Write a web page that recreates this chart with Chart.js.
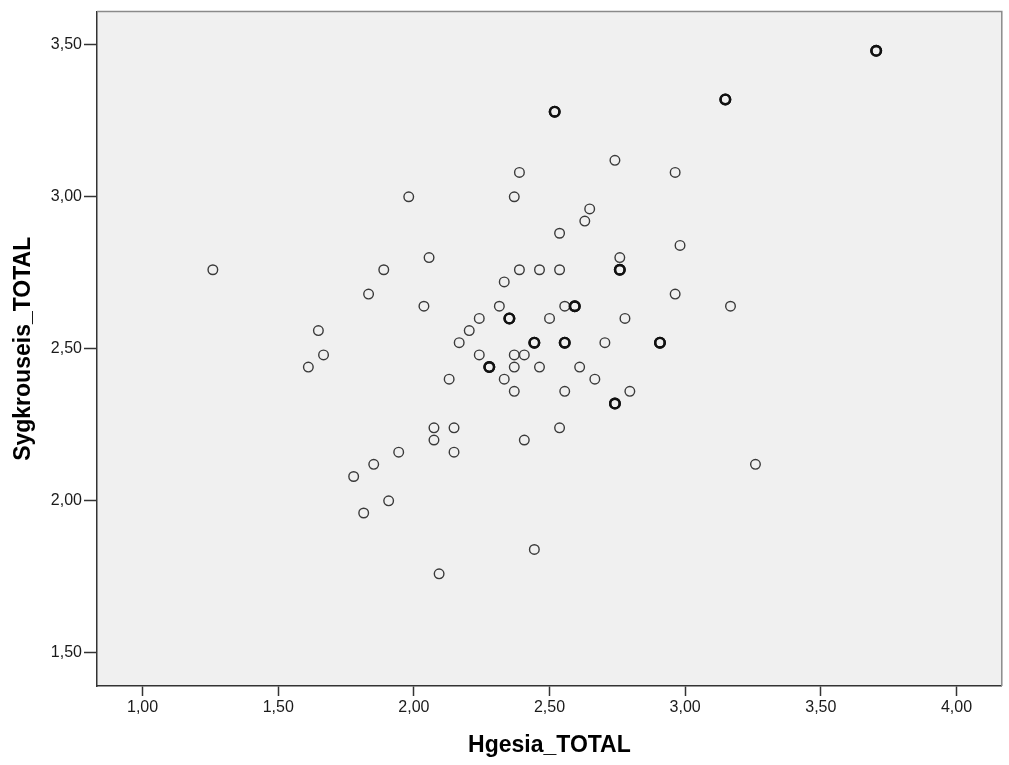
<!DOCTYPE html>
<html>
<head>
<meta charset="utf-8">
<script src="https://cdn.jsdelivr.net/npm/chart.js@4"></script>
<style>
  html, body { margin: 0; padding: 0; background: #ffffff; }
  #wrap { width: 1009px; height: 765px; }
</style>
</head>
<body>
<div id="wrap"><canvas id="c" width="1009" height="765"></canvas></div>
<script>
// ---- data ----
const xTitle = 'Hgesia_TOTAL';
const yTitle = 'Sygkrouseis_TOTAL';

const xTickValues = [1.0, 1.5, 2.0, 2.5, 3.0, 3.5, 4.0];
const xTickLabels = ['1,00', '1,50', '2,00', '2,50', '3,00', '3,50', '4,00'];
const yTickValues = [1.5, 2.0, 2.5, 3.0, 3.5];
const yTickLabels = ['1,50', '2,00', '2,50', '3,00', '3,50'];

const xRange = [0.832, 4.167];
const yRange = [1.391, 3.609];

// Hgesia_TOTAL (x) and Sygkrouseis_TOTAL (y); repeated pairs appear twice
const hgesia = [
  1.259, 1.611, 1.648, 1.667, 1.778, 1.815, 1.833, 1.852, 1.889, 1.907,
  1.944, 1.981, 2.037, 2.056, 2.074, 2.074, 2.093, 2.130, 2.148, 2.148,
  2.167, 2.204, 2.241, 2.241, 2.278, 2.278, 2.315, 2.333, 2.333, 2.352,
  2.352, 2.370, 2.370, 2.370, 2.370, 2.389, 2.389, 2.407, 2.407, 2.444,
  2.444, 2.444, 2.463, 2.463, 2.500, 2.519, 2.519, 2.537, 2.537, 2.537,
  2.556, 2.556, 2.556, 2.556, 2.593, 2.593, 2.611, 2.630, 2.648, 2.667,
  2.704, 2.741, 2.741, 2.741, 2.759, 2.759, 2.759, 2.778, 2.796, 2.907,
  2.907, 2.963, 2.981, 2.963, 3.148, 3.148, 3.167, 3.259, 3.704, 3.704
];
const sygkrouseis = [
  2.76, 2.44, 2.56, 2.48, 2.08, 1.96, 2.68, 2.12, 2.76, 2.00,
  2.16, 3.00, 2.64, 2.80, 2.24, 2.20, 1.76, 2.40, 2.24, 2.16,
  2.52, 2.56, 2.60, 2.48, 2.44, 2.44, 2.64, 2.72, 2.40, 2.60,
  2.60, 3.00, 2.48, 2.44, 2.36, 3.08, 2.76, 2.48, 2.20, 2.52,
  2.52, 1.84, 2.76, 2.44, 2.60, 3.28, 3.28, 2.88, 2.76, 2.24,
  2.64, 2.52, 2.52, 2.36, 2.64, 2.64, 2.44, 2.92, 2.96, 2.40,
  2.52, 3.12, 2.32, 2.32, 2.80, 2.76, 2.76, 2.60, 2.36, 2.52,
  2.52, 3.08, 2.84, 2.68, 3.32, 3.32, 2.64, 2.12, 3.48, 3.48
];

// ---- chart ----
const points = hgesia.map((x, i) => ({ x: x, y: sygkrouseis[i] }));
const multiplicity = p => points.filter(q => q.x === p.x && q.y === p.y).length;

const FONT = "'Liberation Sans', Arial, sans-serif";

const plotFrame = {
  id: 'plotFrame',
  beforeDraw(chart) {
    const a = chart.chartArea, ctx = chart.ctx;
    ctx.save();
    ctx.fillStyle = '#f0f0f0';
    ctx.fillRect(a.left, a.top, a.right - a.left, a.bottom - a.top);
    ctx.restore();
  },
  afterDraw(chart) {
    const a = chart.chartArea, ctx = chart.ctx;
    ctx.save();
    ctx.strokeStyle = '#8a8a8a';
    ctx.lineWidth = 1.5;
    ctx.beginPath();
    ctx.moveTo(a.left, a.top);
    ctx.lineTo(a.right, a.top);
    ctx.lineTo(a.right, a.bottom);
    ctx.stroke();
    ctx.restore();
  }
};

new Chart(document.getElementById('c'), {
  type: 'scatter',
  data: {
    datasets: [{
      label: yTitle,
      data: points,
      showLine: false,
      pointStyle: 'circle',
      pointRadius: 4.8,
      pointHoverRadius: 4.8,
      backgroundColor: 'rgba(0,0,0,0)',
      borderColor: ctx => (ctx.raw && multiplicity(ctx.raw) > 1) ? '#111111' : '#3a3a3a',
      borderWidth: ctx => (ctx.raw && multiplicity(ctx.raw) > 1) ? 2.4 : 1.4
    }]
  },
  options: {
    responsive: false,
    animation: false,
    devicePixelRatio: 1,
    layout: { padding: { top: 10, right: 4, left: 0, bottom: 0 } },
    plugins: {
      legend: { display: false },
      tooltip: { enabled: false }
    },
    scales: {
      x: {
        type: 'linear',
        position: 'bottom',
        min: xRange[0],
        max: xRange[1],
        afterBuildTicks: s => { s.ticks = xTickValues.map(v => ({ value: v })); },
        afterFit: s => { s.height = 79; },
        ticks: {
          callback: (v, i) => xTickLabels[i],
          font: { family: FONT, size: 16 },
          color: '#1a1a1a',
          padding: 2,
          maxRotation: 0,
          autoSkip: false
        },
        grid: {
          drawOnChartArea: false,
          drawTicks: true,
          tickLength: 10,
          tickColor: '#333333',
          tickWidth: 1.5
        },
        border: { display: true, color: '#333333', width: 1.5 },
        title: {
          display: true,
          text: xTitle,
          font: { family: FONT, size: 23, weight: 'bold' },
          color: '#000000',
          padding: { top: 0, bottom: 6 }
        }
      },
      y: {
        type: 'linear',
        position: 'left',
        min: yRange[0],
        max: yRange[1],
        afterBuildTicks: s => { s.ticks = yTickValues.map(v => ({ value: v })); },
        afterFit: s => { s.width = 97; },
        ticks: {
          callback: (v, i) => yTickLabels[i],
          font: { family: FONT, size: 16 },
          color: '#1a1a1a',
          padding: 2,
          autoSkip: false
        },
        grid: {
          drawOnChartArea: false,
          drawTicks: true,
          tickLength: 13,
          tickColor: '#333333',
          tickWidth: 1.5
        },
        border: { display: true, color: '#333333', width: 1.5 },
        title: {
          display: true,
          text: yTitle,
          font: { family: FONT, size: 23, weight: 'bold' },
          color: '#000000',
          padding: { top: 10, bottom: 0 }
        }
      }
    }
  },
  plugins: [plotFrame]
});
</script>
</body>
</html>
